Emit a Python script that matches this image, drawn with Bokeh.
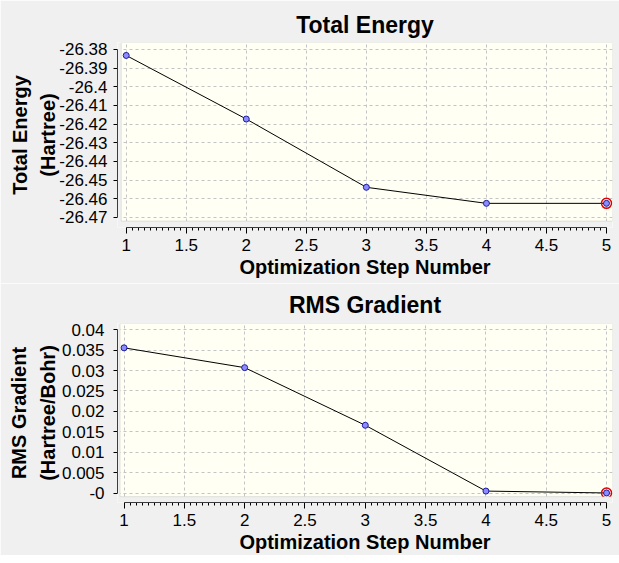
from bokeh.plotting import figure
from bokeh.layouts import column
from bokeh.models import FixedTicker, BoxAnnotation, Range1d
from bokeh.embed import file_html
from bokeh.resources import INLINE

# ---- data -------------------------------------------------------------
steps = [1, 2, 3, 4, 5]
total_energy = [-26.3832, -26.4173, -26.4539, -26.4625, -26.4625]
rms_gradient = [0.03557, 0.03072, 0.0166, 0.00048, 0.00002]

x_ticks = [1, 1.5, 2, 2.5, 3, 3.5, 4, 4.5, 5]
x_tick_labels = ["1", "1.5", "2", "2.5", "3", "3.5", "4", "4.5", "5"]
energy_ticks = [-26.38, -26.39, -26.40, -26.41, -26.42, -26.43, -26.44, -26.45, -26.46, -26.47]
energy_tick_labels = ["-26.38", "-26.39", "-26.4", "-26.41", "-26.42", "-26.43",
                      "-26.44", "-26.45", "-26.46", "-26.47"]
grad_ticks = [0.04, 0.035, 0.03, 0.025, 0.02, 0.015, 0.01, 0.005, 0.0]
grad_tick_labels = ["0.04", "0.035", "0.03", "0.025", "0.02", "0.015", "0.01", "0.005", "-0"]

titles = ["Total Energy", "RMS Gradient"]
y_labels = ["Total Energy\n(Hartree)", "RMS Gradient\n(Hartree/Bohr)"]
x_label = "Optimization Step Number"

# ---- style ------------------------------------------------------------
FONT = "Liberation Sans"
PANEL = "#f0f0f0"
CREAM = "#fffff4"
GRID = "#c4c4c4"
minor = [round(1 + 0.05 * i, 2) for i in range(81)]


def panel(title, ylabel, yvals, yticks, ylabs, xr, yr, cream_left, cream_bottom,
          height, mb_left, mb_top, mb_bottom, tick_standoff, label_standoff,
          title_standoff):
    p = figure(width=619, height=height, x_range=Range1d(*xr), y_range=Range1d(*yr),
               output_backend="svg", toolbar_location=None,
               min_border_left=mb_left, min_border_right=7,
               min_border_top=mb_top, min_border_bottom=mb_bottom,
               background_fill_color=CREAM, border_fill_color=PANEL,
               outline_line_color=None)
    p.title.text = title
    p.title.align = "center"
    p.title.offset = 5
    p.title.text_font = FONT
    p.title.text_font_size = "23px"
    p.title.text_font_style = "bold"
    p.title.text_color = "black"
    p.title.standoff = title_standoff

    xa = p.xaxis[0]
    xa.ticker = FixedTicker(ticks=x_ticks, minor_ticks=minor)
    xa.major_label_overrides = dict(zip(x_ticks, x_tick_labels))
    xa.bounds = (1, 5)
    xa.major_tick_out = 6
    xa.major_tick_in = 0
    xa.minor_tick_out = 3
    xa.minor_tick_in = 0
    xa.major_label_standoff = 5
    xa.axis_label = x_label
    xa.axis_label_standoff = 2

    ya = p.yaxis[0]
    ya.ticker = FixedTicker(ticks=yticks)
    ya.major_label_overrides = dict(zip(yticks, ylabs))
    ya.bounds = (min(yticks), max(yticks))
    ya.major_tick_out = 4
    ya.major_tick_in = 0
    ya.major_label_standoff = tick_standoff
    ya.axis_label = ylabel
    ya.axis_label_standoff = label_standoff
    ya.axis_label_text_line_height = 1.3

    for ax in (xa, ya):
        ax.major_label_text_font = FONT
        ax.major_label_text_font_size = "17px"
        ax.major_label_text_color = "black"
        ax.axis_label_text_font = FONT
        ax.axis_label_text_font_size = "20px"
        ax.axis_label_text_font_style = "bold"
        ax.axis_label_text_color = "black"
        ax.axis_line_color = "black"
        ax.major_tick_line_color = "black"
    xa.minor_tick_line_color = "black"
    ya.minor_tick_line_color = None

    p.xgrid.ticker = FixedTicker(ticks=x_ticks)
    p.ygrid.ticker = FixedTicker(ticks=yticks)
    for g in (p.xgrid[0], p.ygrid[0]):
        g.grid_line_color = GRID
        g.grid_line_dash = "3 3"
        g.grid_line_width = 1

    # gap strips between axes and plotting area
    p.add_layout(BoxAnnotation(left=xr[0], right=cream_left, bottom=yr[0], top=yr[1],
                               fill_color=PANEL, fill_alpha=1, line_color=None))
    p.add_layout(BoxAnnotation(left=xr[0], right=xr[1], bottom=yr[0], top=cream_bottom,
                               fill_color=PANEL, fill_alpha=1, line_color=None))
    p.add_layout(BoxAnnotation(left=cream_left, right=xr[1], bottom=cream_bottom, top=yr[1],
                               fill_alpha=0, line_color="#a8a8a8", line_width=1))

    p.line(steps, yvals, line_color="black", line_width=1)
    p.scatter([steps[-1]], [yvals[-1]], size=10, fill_color=None,
              line_color="#e00000", line_width=1.5)
    p.scatter(steps, yvals, size=6, fill_color="#8c8cff", line_color="#1c1c9c",
              line_width=1)
    return p


p1 = panel(titles[0], y_labels[0], total_energy, energy_ticks, energy_tick_labels,
           (0.9275, 5.05), (-26.47545, -26.37626), 0.9584, -26.472,
           283, 117, 42, 56, 6, -3, 10)
p2 = panel(titles[1], y_labels[1], rms_gradient, grad_ticks, grad_tick_labels,
           (0.9458, 5.0493), (-0.002315, 0.04153), 0.967, -0.00088,
           272, 113, 36, 52, 9, 0, 12)

layout = column(p1, p2, spacing=0)
open("out.html", "w").write(file_html(layout, INLINE))
